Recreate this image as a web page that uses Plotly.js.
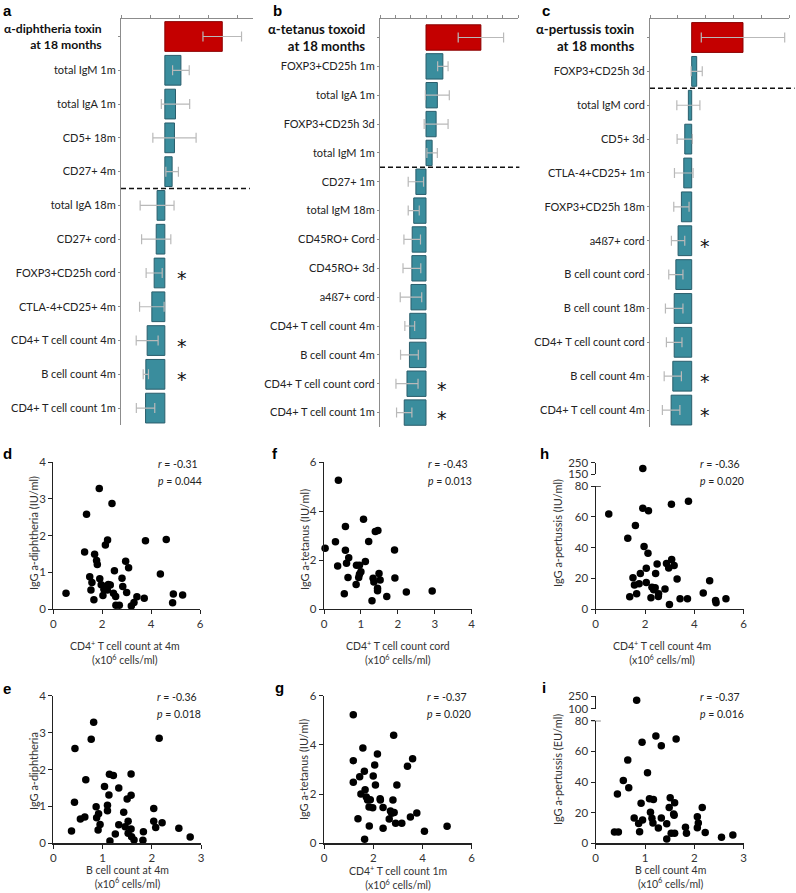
<!DOCTYPE html>
<html><head><meta charset="utf-8">
<script src="https://cdn.plot.ly/plotly-3.0.1.min.js"></script>
<style>body{margin:0;background:#fff}#chart{width:796px;height:893px}</style>
</head><body><div id="chart"></div>
<script>
// ---------- Panel a: alpha-diphtheria toxin ----------
const catA = ["a-dip","total IgM 1m","total IgA 1m","CD5+ 18m","CD27+ 4m","total IgA 18m","CD27+ cord","FOXP3+CD25h cord","CTLA-4+CD25+ 4m","CD4+ T cell count 4m","B cell count 4m","CD4+ T cell count 1m"];
const titleA = "α-diphtheria toxin<br>at 18 months";
const valA = [0.393,0.110,0.073,0.066,0.050,-0.053,-0.059,-0.073,-0.089,-0.121,-0.130,-0.132];
const errA = [0.132,0.057,0.097,0.148,0.043,0.116,0.100,0.055,0.084,0.075,0.018,0.063];
const sigA = [0,0,0,0,0,0,0,1,0,1,1,0];

// ---------- Panel b: alpha-tetanus toxoid ----------
const catB = ["a-tet","FOXP3+CD25h 1m","total IgA 1m","FOXP3+CD25h 3d","total IgM 1m","CD27+ 1m","total IgM 18m","CD45RO+ Cord","CD45RO+ 3d","a4ß7+ cord","CD4+ T cell count 4m","B cell count 4m","CD4+ T cell count cord","CD4+ T cell count 1m"];
const titleB = "α-tetanus toxoid<br>at 18 months";
const valB = [0.179,0.055,0.037,0.033,0.020,-0.033,-0.040,-0.045,-0.046,-0.049,-0.053,-0.054,-0.062,-0.071];
const errB = [0.074,0.017,0.039,0.039,0.017,0.025,0.018,0.027,0.029,0.035,0.016,0.029,0.036,0.025];
const sigB = [0,0,0,0,0,0,0,0,0,0,0,0,1,1];

// ---------- Panel c: alpha-pertussis toxin ----------
const catC = ["a-per","FOXP3+CD25h 3d","total IgM cord","CD5+ 3d","CTLA-4+CD25+ 1m","FOXP3+CD25h 18m","a4ß7+ cord","B cell count cord","B cell count 18m","CD4+ T cell count cord","B cell count 4m","CD4+ T cell count 4m"];
const titleC = "α-pertussis toxin<br>at 18 months";
const valC = [0.369,0.036,-0.024,-0.050,-0.057,-0.074,-0.098,-0.114,-0.126,-0.126,-0.136,-0.148];
const errC = [0.300,0.040,0.083,0.055,0.067,0.055,0.048,0.051,0.063,0.056,0.062,0.063];
const sigC = [0,0,0,0,0,0,1,0,0,0,1,1];

// ---------- Scatter d ----------
const dX = [0.52,1.88,1.36,2.40,2.22,2.13,1.28,1.69,1.77,1.80,3.77,4.62,2.96,3.08,2.50,4.38,1.49,1.90,1.58,2.81,1.96,2.13,2.25,2.33,2.07,2.21,2.84,1.54,2.03,2.46,2.55,3.00,1.66,2.56,2.70,3.19,3.30,3.42,3.72,4.91,4.88,5.29];
const dY = [0.43,3.28,2.58,2.87,1.88,1.74,1.55,1.49,1.32,1.21,1.86,1.89,1.30,1.12,1.04,0.95,0.88,0.82,0.72,0.84,0.66,0.61,0.67,0.65,0.54,0.52,0.61,0.52,0.37,0.43,0.34,0.45,0.25,0.10,0.10,0.08,0.18,0.33,0.29,0.41,0.17,0.38];
// ---------- Scatter f ----------
const fX = [0.03,0.39,1.07,0.58,1.39,1.46,0.31,1.21,0.58,1.91,0.67,0.37,0.61,1.12,0.88,0.96,1.00,0.96,0.94,0.65,1.49,1.33,1.35,1.52,1.92,0.87,1.45,1.45,0.55,1.70,2.23,2.93,1.30];
const fY = [2.48,5.26,3.66,3.37,3.16,3.20,2.74,2.76,2.40,2.41,2.09,1.76,1.87,1.94,1.79,1.79,1.52,1.42,1.29,1.29,1.45,1.26,1.10,1.18,1.27,1.00,0.85,0.75,0.62,0.51,0.69,0.73,0.34];
// ---------- Scatter h ----------
const hX = [0.53,1.91,1.91,2.14,3.07,3.76,1.61,1.30,1.96,2.12,3.08,3.18,2.87,2.49,2.96,2.05,3.30,2.43,1.81,1.51,4.62,2.05,1.76,1.57,2.28,2.41,2.35,2.81,1.66,2.55,2.54,2.24,1.38,4.36,3.42,3.72,2.99,4.86,4.88,5.28];
const hY = [62.0,201,65.7,64.0,68.3,70.2,54.4,46.2,40.8,36.4,32.3,28.4,29.7,29.3,26.7,26.5,19.5,23.2,23.2,20.4,18.4,17.3,16.5,15.6,14.1,13.9,12.6,13.0,10.0,10.0,8.2,7.4,8.0,10.4,6.7,6.7,3.0,5.6,4.1,6.7];
// ---------- Scatter e ----------
const eX = [0.37,0.44,0.43,0.55,0.64,0.66,0.77,0.82,0.87,0.88,0.92,0.95,0.91,1.04,1.10,1.10,1.13,1.14,1.22,1.15,1.26,1.33,1.33,1.43,1.46,1.50,1.52,1.52,1.58,1.58,1.58,1.59,1.64,1.83,1.82,2.04,2.04,2.08,2.15,2.21,2.55,2.78];
const eY = [0.33,2.57,1.11,0.66,0.71,1.72,2.82,3.28,0.99,0.69,0.80,0.51,0.36,1.54,1.03,0.88,1.31,1.87,1.84,0.06,0.25,1.50,0.50,0.84,0.45,1.20,0.60,0.27,1.30,1.88,0.39,0.18,0.09,0.31,0.08,0.94,0.60,0.43,2.85,0.56,0.41,0.17];
// ---------- Scatter g ----------
const gX = [1.19,1.19,1.19,1.58,2.83,2.17,1.64,2.06,1.45,2.00,2.09,3.60,3.39,2.96,1.67,1.50,1.72,1.77,1.88,2.28,2.29,2.80,1.83,1.98,2.40,2.70,2.75,2.85,3.77,3.51,2.65,1.38,2.91,3.16,1.84,2.40,4.08,5.00,1.65];
const gY = [5.23,3.36,2.48,3.87,4.39,3.63,2.93,3.18,2.71,2.74,2.37,3.44,3.13,2.37,2.18,2.00,1.88,1.76,1.77,1.81,1.76,1.76,1.48,1.45,1.46,1.31,1.22,1.25,1.23,1.07,0.99,1.00,0.81,0.81,0.70,0.61,0.49,0.69,0.16];
// ---------- Scatter i ----------
const iX = [0.83,1.22,1.63,0.94,1.33,0.65,1.05,0.56,0.67,0.44,1.09,1.17,1.51,1.60,0.92,1.49,2.16,1.58,1.59,1.11,0.78,0.95,1.14,1.33,2.06,0.87,1.16,1.44,2.08,1.82,1.27,2.06,0.89,0.38,0.46,1.53,1.60,1.84,2.22,1.44,2.55,2.78];
const iY = [199,70.0,68.0,65.9,63.7,54.3,46.1,40.9,36.3,32.2,29.1,28.5,29.8,26.5,26.1,23.3,23.3,19.1,18.3,20.2,16.5,15.2,16.3,16.5,17.4,13.0,13.3,12.8,13.3,10.4,10.0,10.2,7.6,7.4,7.4,6.5,6.5,6.5,7.0,2.8,3.9,5.4];

// ---------- layout helpers ----------
const W = 796, H = 893;
const xd = (a,b) => [a/W, b/W];
const yd = (t,b) => [1-b/H, 1-t/H];
const px = p => p/W, py = p => 1-p/H;
const FONT = "Lato, 'Open Sans', sans-serif";
const RED = '#c40000', RED_L = '#8a0000', TEAL = '#3a8d9d', TEAL_L = '#2a5e6c';
const AXG = '#8c8c8c';

const data = [];
const layout = {
  width: W, height: H, margin: {l:0,r:0,t:0,b:0}, showlegend: false,
  paper_bgcolor: '#fff', plot_bgcolor: 'rgba(0,0,0,0)',
  font: {family: FONT, size: 11, color: '#222'},
  bargap: 0.12, annotations: [], shapes: []
};
const ax = (k,n) => k + (n===1 ? '' : n);

function barPanel(n, cats, vals, errs, sig, title, titleRight, titleSize, xdom, ydom, range, dtick, starX, dashIdx, dashEnd){
  const xa = ax('x',n), ya = ax('y',n);
  data.push({
    type:'bar', orientation:'h', x: vals, y: cats, xaxis: xa, yaxis: ya,
    marker:{color: vals.map((v,i)=> i===0 ? RED : TEAL), line:{color: vals.map((v,i)=> i===0 ? RED_L : TEAL_L), width:1}},
    error_x:{type:'data', array: errs, visible:true, color:'#b9b9b9', thickness:1.2, width:5},
    hoverinfo:'skip'
  });
  cats.forEach((c,i) => {
    if (sig[i]) layout.annotations.push({
      text:'*', xref: xa, x: starX, yref: ya, y: c, xanchor:'center', yanchor:'middle', yshift:-5,
      showarrow:false, font:{size:19, color:'#111', family:'DejaVu Sans'}
    });
  });
  layout[ax('xaxis',n)] = {
    domain: xd(...xdom), anchor: ya, side:'top', range: range, tick0: range[0], dtick: dtick, tickmode:'linear',
    showticklabels:false, ticks:'outside', ticklen:3, tickcolor:AXG, showline:true, linecolor:AXG, linewidth:1,
    showgrid:false, zeroline:false, fixedrange:true
  };
  layout[ax('yaxis',n)] = {
    domain: yd(...ydom), anchor: xa, type:'category', autorange:'reversed',
    tickmode:'array', tickvals: cats, ticktext: cats.map((c,i)=> i===0 ? ' ' : c),
    ticks:'outside', ticklen:2, tickcolor:AXG, showline:true, linecolor:AXG, linewidth:1,
    showgrid:false, zeroline:false, tickfont:{size:11, color:'#222'}, fixedrange:true
  };
  layout.annotations.push({
    text: '<b>'+title+'</b>', xref:'paper', x: px(titleRight), xanchor:'right', yref: ya, y: cats[0], yanchor:'middle',
    align:'right', showarrow:false, font:{size:titleSize, color:'#111'}
  });
  layout.shapes.push({
    type:'line', xref: xa+' domain', x0:0, x1:dashEnd, yref: ya, y0: dashIdx+0.5, y1: dashIdx+0.5,
    line:{color:'#111', width:1.5, dash:'5px,3px'}
  });
}

barPanel(1, catA, valA, errA, sigA, titleA, 104, 12.2, [121,252.5], [19,425], [-0.3,0.6], 0.2, 0.116, 4, 0.98);
barPanel(2, catB, valB, errB, sigB, titleB, 367, 13.2, [380,518], [19,427], [-0.15,0.30], 0.05, 0.051, 4, 1.01);
barPanel(3, catC, valC, errC, sigC, titleC, 636, 13.2, [650,789], [19,427], [-0.3,0.7], 0.2, 0.095, 1, 1.04);

function axisStyle(o){
  return Object.assign({showline:true, linecolor:'#222', linewidth:1.2, ticks:'outside', ticklen:4, tickcolor:'#222',
    showgrid:false, zeroline:false, tickfont:{size:11.5, color:'#333'}, fixedrange:true}, o);
}
function scatPanel(n, xs, ys, xdom, ydom, xr, xdt, yr, ydt, upper){
  const xa = ax('x',n), ya = ax('y',n);
  const lowIdx = ys.map((v,i)=>i).filter(i => !upper || ys[i] <= yr[1]);
  data.push({type:'scatter', mode:'markers', x: lowIdx.map(i=>xs[i]), y: lowIdx.map(i=>ys[i]), xaxis: xa, yaxis: ya,
    marker:{size:7.5, color:'#000'}, cliponaxis:false, hoverinfo:'skip'});
  layout[ax('xaxis',n)] = axisStyle({domain: xd(...xdom), anchor: ya, range: xr, tick0:0, dtick: xdt});
  layout[ax('yaxis',n)] = axisStyle({domain: yd(...ydom), anchor: xa, range: yr, tick0:0, dtick: ydt});
  if (upper){
    const un = upper.n, ua = ax('y',un);
    const upIdx = ys.map((v,i)=>i).filter(i => ys[i] > yr[1]);
    data.push({type:'scatter', mode:'markers', x: upIdx.map(i=>xs[i]), y: upIdx.map(i=>ys[i]), xaxis: xa, yaxis: ua,
      marker:{size:7.5, color:'#000'}, cliponaxis:false, hoverinfo:'skip'});
    layout[ax('yaxis',un)] = axisStyle({domain: yd(...upper.dom), anchor: xa, range: upper.range, tickmode:'array', tickvals: upper.range});
    layout.shapes.push({type:'line', xref: xa+' domain', x0:-0.03, x1:0.035, yref: ya, y0: yr[1], y1: yr[1], line:{color:'#222', width:1.2}});
  }
}
scatPanel(4, dX, dY, [53.3,200], [462,609], [0,6], 2, [0,4], 1);
scatPanel(5, fX, fY, [324,471.7], [462,609], [0,4], 1, [0,6], 2);
scatPanel(6, hX, hY, [595.7,743.7], [486.3,609], [0,6], 2, [0,80], 20, {n:7, dom:[462.7,474.3], range:[150,250]});
scatPanel(8, eX, eY, [53.3,201], [695.7,843.3], [0,3], 1, [0,4], 1);
scatPanel(9, gX, gY, [324,471.7], [695.7,843.3], [0,6], 2, [0,6], 2);
scatPanel(10, iX, iY, [595.7,743.7], [720.7,843.3], [0,3], 1, [0,80], 20, {n:11, dom:[696,708.7], range:[100,250]});

// axis titles, stats and panel letters
function ann(text, x, y, o){
  layout.annotations.push(Object.assign({text, xref:'paper', yref:'paper', x: px(x), y: py(y), showarrow:false,
    font:{size:11, color:'#333'}}, o||{}));
}
const yTitles = [
  ["IgG a-diphtheria (IU/ml)", 33, 533], ["IgG a-tetanus (IU/ml)", 304, 540], ["IgG a-pertussis (IU/ml)", 557, 533],
  ["IgG a-diphtheria", 33, 771], ["IgG a-tetanus (IU/ml)", 303, 770], ["IgG a-pertussis (EU/ml)", 557, 770]
];
yTitles.forEach(t => ann(t[0], t[1], t[2], {textangle:-90, xanchor:'center', yanchor:'middle'}));
const xTitles = [
  ["CD4<sup>+</sup> T cell count at 4m", 125, 652], ["CD4<sup>+</sup> T cell count cord", 398, 652], ["CD4<sup>+</sup> T cell count 4m", 662, 652],
  ["B cell count at 4m", 127, 877], ["CD4<sup>+</sup> T cell count 1m", 398, 877], ["B cell count 4m", 670, 877]
];
xTitles.forEach(t => ann(t[0]+"<br>(x10<sup>6</sup> cells/ml)", t[1], t[2], {xanchor:'center', yanchor:'middle', align:'center', font:{size:10.5, color:'#333'}}));
const stats = [
  ["-0.31","0.044",156,464],["-0.43","0.013",426,464],["-0.36","0.020",698,464],
  ["-0.36","0.018",155,697],["-0.37","0.020",425,697],["-0.37","0.016",698,697]
];
stats.forEach(s => {
  ann("<i>r</i> = "+s[0], s[2], s[3], {xanchor:'left', yanchor:'middle', font:{size:10.5, color:'#222'}});
  ann("<i>p</i> = "+s[1], s[2], s[3]+16.5, {xanchor:'left', yanchor:'middle', font:{size:10.5, color:'#222'}});
});
const letters = [["a",1,0],["b",271,0],["c",540,0],["d",1,443],["f",270,443],["h",538,443],["e",1,678],["g",273,677],["i",540,677]];
letters.forEach(l => ann("<b>"+l[0]+"</b>", l[1], l[2], {xanchor:'left', yanchor:'top', font:{size:15, color:'#000', family:"'Liberation Sans', Arial, sans-serif"}}));

Plotly.newPlot('chart', data, layout, {staticPlot:true, displayModeBar:false});
</script></body></html>
